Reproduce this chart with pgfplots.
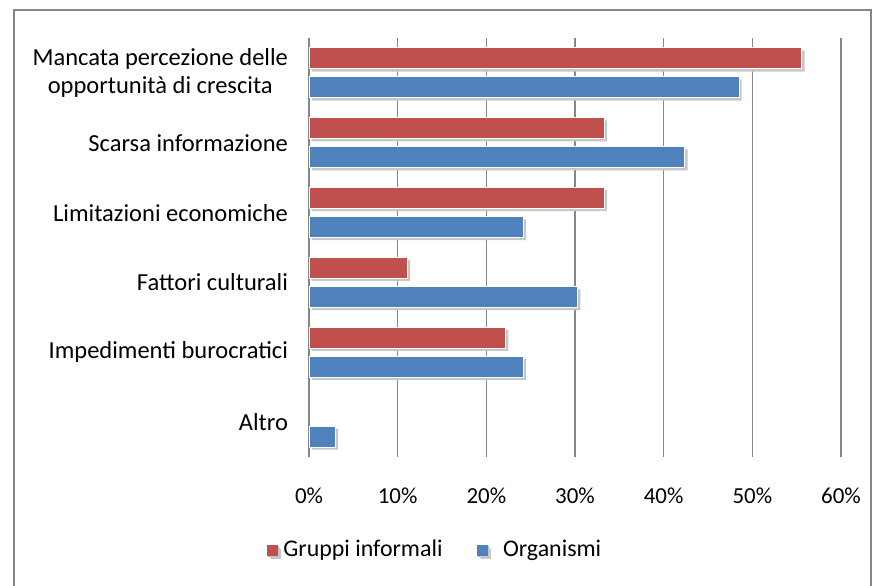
\documentclass[border=0pt]{standalone}
\usepackage{fontspec}
\setmainfont{Carlito}
\usepackage{pgfplots}
\pgfplotsset{compat=1.18}
\definecolor{redbar}{HTML}{C0504D}
\definecolor{bluebar}{HTML}{4F81BD}
\definecolor{gridc}{HTML}{868686}

\begin{document}
\begin{tikzpicture}
\path[use as bounding box] (0,0) rectangle (438.5bp,-293bp);
\draw[gridc, line width=0.6bp] (7bp,-293bp) -- (7bp,-5bp) -- (435.5bp,-5bp) -- (435.5bp,-293bp);
\begin{axis}[
  at={(154.5bp,-228.5bp)}, anchor=south west,
  scale only axis, width=266bp, height=209.5bp,
  xbar, bar width=10.5bp,
  xmin=0, xmax=60,
  ymin=-0.5, ymax=5.5, y dir=reverse,
  xtick={0,10,...,60},
  xticklabel={\pgfmathprintnumber{\tick}\%},
  /pgf/number format/assume math mode=true,
  ytick={0,...,5},
  yticklabels={{Mancata percezione delle\\opportunità di crescita},
    Scarsa informazione, Limitazioni economiche, Fattori culturali,
    Impedimenti burocratici, Altro},
  yticklabel style={align=center, xshift=-7bp, font=\fontsize{12.3}{14.5}\selectfont},
  xticklabel style={yshift=-12bp, font=\fontsize{11.5}{13.5}\selectfont},
  tick label style={text=black},
  major tick length=0pt,
  axis line style={draw=none},
  xmajorgrids, grid style={gridc, line width=0.7bp},
  legend columns=2,
  legend style={at={(0.2387,-0.222)}, anchor=center, draw=none,
    font=\fontsize{12}{14}\selectfont, column sep=0pt,
    /tikz/every even column/.append style={column sep=15bp}},
]
\addplot[fill=redbar, draw=white, line width=0.5bp, bar shift=7.25bp,
  preaction={fill=black!22, draw=none, transform canvas={shift={(1.3bp,-1.3bp)}}},
  legend image code/.code={\fill[black!30] (0.8bp,-3.3bp) rectangle (5.8bp,1.7bp);
    \fill[redbar] (0bp,-2.5bp) rectangle (5bp,2.5bp);}]
  coordinates {(55.6,0) (33.3,1) (33.3,2) (11.1,3) (22.2,4)};
\addlegendentry{Gruppi informali}
\addplot[fill=bluebar, draw=white, line width=0.5bp, bar shift=-7.25bp,
  preaction={fill=black!22, draw=none, transform canvas={shift={(1.3bp,-1.3bp)}}},
  legend image code/.code={\fill[black!30] (0.8bp,-3.3bp) rectangle (5.8bp,1.7bp);
    \fill[bluebar] (0bp,-2.5bp) rectangle (5bp,2.5bp);}]
  coordinates {(48.5,0) (42.4,1) (24.2,2) (30.3,3) (24.2,4) (3.0,5)};
\addlegendentry{\hspace{5bp}Organismi}
\end{axis}
\end{tikzpicture}
\end{document}
